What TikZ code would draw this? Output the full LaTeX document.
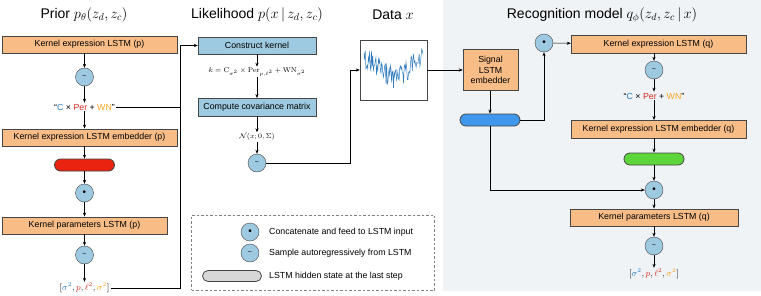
\documentclass[tikz,border=0pt]{standalone}
\usepackage[no-math]{fontspec}
\setmainfont{Liberation Sans}
\usepackage{amsmath,amssymb,xcolor}
\definecolor{lstmorange}{RGB}{248,189,135}
\definecolor{gpblue}{RGB}{158,202,225}
\definecolor{edgegray}{RGB}{70,70,70}
\definecolor{statered}{RGB}{234,34,16}
\definecolor{stategreen}{RGB}{92,214,58}
\definecolor{stateblue}{RGB}{64,152,236}
\definecolor{stategray}{RGB}{215,215,215}
\definecolor{panelbg}{RGB}{240,243,245}
\definecolor{kblue}{RGB}{40,120,185}
\definecolor{kred}{RGB}{215,45,30}
\definecolor{korange}{RGB}{250,165,30}
\definecolor{serieblue}{RGB}{50,125,190}
\usetikzlibrary{arrows.meta,positioning,calc}
\tikzset{
  lstmbox/.style={draw=edgegray, fill=lstmorange, font=\fontsize{8.8}{10.5}\selectfont,
                  minimum width=#1, minimum height=17.5pt, inner sep=1pt},
  gpbox/.style={draw=edgegray, fill=gpblue, font=\fontsize{8.8}{10.5}\selectfont,
                minimum width=118pt, minimum height=17.5pt, inner sep=1pt},
  opnode/.style={draw=edgegray, circle, fill=gpblue, minimum size=18pt, inner sep=0pt,
                 font=\fontsize{7}{7}\selectfont},
  catnode/.style={opnode, font=\fontsize{10}{10}\selectfont},
  hstate/.style={draw=edgegray, line width=0.8pt, rounded corners=6pt, fill=#1,
                 minimum width=60pt, minimum height=12pt, inner sep=0pt},
  flow/.style={-{Stealth[length=4pt,width=3.2pt]}, line width=0.6pt},
  wire/.style={line width=0.6pt},
  ttl/.style={font=\fontsize{14}{16}\selectfont, inner sep=1pt},
  lbl/.style={font=\fontsize{8.8}{10.5}\selectfont, inner sep=1pt},
  mlbl/.style={font=\fontsize{7}{8}\selectfont, inner sep=1pt},
}

\begin{document}
\begin{tikzpicture}[x=1pt, y=1pt]
\useasboundingbox (0,0) rectangle (761,-295);

% Recognition panel background
\fill[panelbg] (443,0) rectangle (761,-291);

% Titles
\node[ttl] (ptitle) at (84,-15) {Prior $p_\theta(z_d, z_c)$};
\node[ttl] (ltitle) at (257,-15) {Likelihood $p(x\,|\,z_d, z_c)$};
\node[ttl] (dtitle) at (393,-15) {Data $x$};
\node[ttl] (qtitle) at (602,-15) {Recognition model $q_\phi(z_d, z_c\,|\,x)$};

% Prior column
\node[lstmbox=175pt] (kexpp) at (89.5,-44.5) {Kernel expression LSTM (p)};
\node[opnode] (sampp1) at (84.5,-77) {\textasciitilde};
\node[lbl] (wnp) at (84.5,-107) {``\textcolor{kblue}{C} × \textcolor{kred}{Per} + \textcolor{korange}{WN}''};
\node[lstmbox=175pt] (kembp) at (89.5,-137.5) {Kernel expression LSTM embedder (p)};
\node[hstate=statered] (hidp) at (84.5,-165) {};
\node[catnode] (catp) at (84.5,-193) {\textbullet};
\node[lstmbox=165pt] (kparp) at (84.5,-225.5) {Kernel parameters LSTM (p)};
\node[opnode] (sampp2) at (84.5,-255) {\textasciitilde};
\node[font=\fontsize{9}{10}\selectfont, inner sep=1pt] (sigp) at (84.5,-288)
  {$[\textcolor{kblue}{\sigma^2},\textcolor{kred}{p},\textcolor{kred}{\ell^2},\textcolor{korange}{\sigma^2}]$};

\draw[flow] (kexpp.south -| sampp1) -- (sampp1);
\draw[flow] (sampp1) -- (wnp);
\draw[flow] (wnp) -- (kembp.north -| wnp);
\draw[flow] (kembp.south -| hidp) -- (hidp);
\draw[flow] (hidp) -- (catp);
\draw[flow] (catp) -- (kparp);
\draw[flow] (kparp) -- (sampp2);
\draw[flow] (sampp2) -- (sigp);

% Likelihood column
\coordinate (busp) at (180,-45.5);
\node[gpbox] (ckern) at (257,-45.5) {Construct kernel};
\node[mlbl] (kform) at (257,-72)
  {$k=\mathrm{C}_{\sigma^2}\times\mathrm{Per}_{p,\ell^2}+\mathrm{WN}_{\sigma^2}$};
\node[gpbox] (covm) at (257,-107) {Compute covariance matrix};
\node[mlbl] (gauss) at (257,-137) {$\mathcal{N}(x;0,\Sigma)$};
\node[opnode] (sampx) at (257,-163) {\textasciitilde};

\draw[wire] (wnp.east) -| (busp);
\draw[flow] (sigp.east) -| (busp) -- (ckern.west);
\draw[flow] (ckern) -- (kform);
\draw[flow] (kform) -- (covm);
\draw[flow] (covm) -- (gauss);
\draw[flow] (gauss) -- (sampx);

% Data
\coordinate (dturn) at (350,-70);
\node[draw=edgegray, fill=white, minimum width=67pt, minimum height=60pt] (data) at (393.5,-70) {};
\pgfmathsetseed{42}
\draw[serieblue, line width=0.5pt] plot[domain=364:423, samples=95]
  (\x, {-(68 + 9*sin(6*(\x-380)) + 11*rand)});
\draw[flow] (sampx.east) -| (dturn) -- (data.west);

% Recognition model
\node[lstmbox=55pt, minimum height=41pt, align=center] (sigemb) at (490.5,-70) {Signal\\LSTM\\embedder};
\node[hstate=stateblue] (hidx) at (490,-120) {};
\node[catnode] (catq1) at (544,-43) {\textbullet};
\node[lstmbox=175pt] (kexpq) at (658.5,-44) {Kernel expression LSTM (q)};
\node[opnode] (sampq1) at (654,-70) {\textasciitilde};
\node[lbl] (wnq) at (654,-96) {``\textcolor{kblue}{C} × \textcolor{kred}{Per} + \textcolor{korange}{WN}''};
\node[lstmbox=175pt] (kembq) at (658.5,-129) {Kernel expression LSTM embedder (q)};
\node[hstate=stategreen] (hidq) at (654,-159) {};
\node[catnode] (catq2) at (654,-190) {\textbullet};
\node[lstmbox=168pt] (kparq) at (654,-217.5) {Kernel parameters LSTM (q)};
\node[opnode] (sampq2) at (654,-246) {\textasciitilde};
\node[font=\fontsize{9}{10}\selectfont, inner sep=1pt] (sigq) at (654,-274)
  {$[\textcolor{kblue}{\sigma^2},\textcolor{kred}{p},\textcolor{kred}{\ell^2},\textcolor{korange}{\sigma^2}]$};

\draw[flow] (data.east) -- (sigemb.west);
\draw[flow] (sigemb.south -| hidx) -- (hidx);
\draw[flow] (hidx.east) -| (catq1);
\draw[flow] (catq1) -- (kexpq);
\draw[flow] (kexpq.south -| sampq1) -- (sampq1);
\draw[flow] (sampq1) -- (wnq);
\draw[flow] (wnq) -- (kembq.north -| wnq);
\draw[flow] (kembq.south -| hidq) -- (hidq);
\draw[flow] (hidq) -- (catq2);
\draw[flow] (hidx.south) |- (catq2);
\draw[flow] (catq2) -- (kparq);
\draw[flow] (kparq) -- (sampq2);
\draw[flow] (sampq2) -- (sigq);

% Legend
\node[draw=gray, dash pattern=on 2.5pt off 2pt, minimum width=243pt, minimum height=75pt] (legbox) at (313,-252.5) {};
\node[catnode] (lcat) at (250,-232) {\textbullet};
\node[opnode] (lsamp) at (250,-253) {\textasciitilde};
\node[hstate=stategray, minimum width=59pt, minimum height=11pt, rounded corners=5.5pt] (lhid) at (232,-276) {};
\node[lbl, anchor=west] (lcattxt) at (268,-232) {Concatenate and feed to LSTM input};
\node[lbl, anchor=west] (lsamptxt) at (268,-253) {Sample autoregressively from LSTM};
\node[lbl, anchor=west] (lhidtxt) at (268,-276) {LSTM hidden state at the last step};

\end{tikzpicture}
\end{document}
